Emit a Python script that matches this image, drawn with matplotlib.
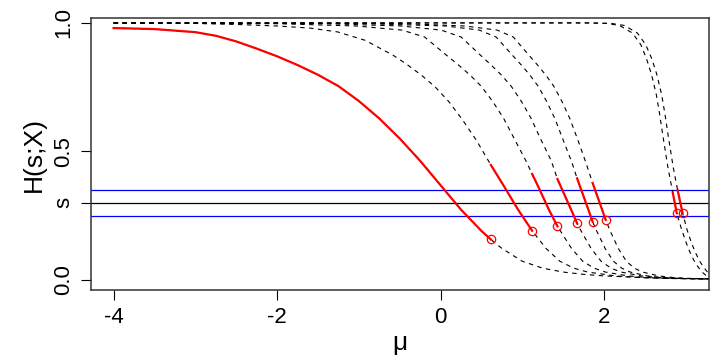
import numpy as np
import matplotlib
matplotlib.use("Agg")
import matplotlib.pyplot as plt

plt.rcParams['font.family'] = ['Liberation Sans', 'DejaVu Sans']

# curves H(s;X), one per step
curve_x = [
    [-4, -3.5, -3.0, -2.75, -2.5, -2.25, -2.0, -1.75, -1.5, -1.25, -1.0, -0.75, -0.5, -0.25, 0.0, 0.25, 0.5, 0.615,
     0.75, 1.0, 1.25, 1.5, 1.75, 2.0, 2.5, 3.0, 3.3],
    [-4, -3, -2.5, -2, -1.6, -1.26, -0.92, -0.58, -0.41, -0.24, -0.07, 0.10, 0.27, 0.44, 0.615, 0.78, 0.95, 1.12,
     1.29, 1.46, 1.63, 1.80, 2.14, 2.48, 2.82, 3.3],
    [-4, -2, -1.025, -0.47, -0.195, 0.081, 0.22, 0.357, 0.496, 0.634, 0.772, 0.91, 1.049, 1.12, 1.187, 1.325, 1.43,
     1.602, 1.74, 1.878, 2.017, 2.293, 2.57, 2.846, 3.3],
    [-4, -1.5, -0.48, 0.008, 0.252, 0.496, 0.619, 0.741, 0.863, 0.986, 1.108, 1.23, 1.352, 1.43, 1.597, 1.67, 1.719,
     1.841, 1.964, 2.086, 2.208, 2.452, 2.697, 2.941, 3.3],
    [-4, -1.0, 0.065, 0.475, 0.68, 0.885, 0.988, 1.09, 1.193, 1.295, 1.398, 1.5, 1.603, 1.67, 1.808, 1.86, 1.91,
     2.013, 2.115, 2.218, 2.32, 2.525, 2.73, 2.935, 3.3],
    [-4, -0.5, 0.2975, 0.6925, 0.89, 1.0875, 1.186, 1.285, 1.384, 1.4825, 1.581, 1.68, 1.779, 1.86, 1.976, 2.02,
     2.075, 2.174, 2.273, 2.371, 2.47, 2.668, 2.865, 3.063, 3.3],
    [-4, 1.8, 2.03, 2.19, 2.35, 2.45, 2.52, 2.58, 2.64, 2.68, 2.72, 2.78, 2.84, 2.89, 2.95, 3.0, 3.05, 3.1, 3.15,
     3.2, 3.25, 3.3],
    [-4, 1.85, 2.09, 2.25, 2.41, 2.51, 2.585, 2.645, 2.705, 2.745, 2.785, 2.845, 2.90, 2.96, 3.015, 3.065, 3.115,
     3.165, 3.215, 3.265, 3.3],
]
curve_y = [
    [0.980, 0.976, 0.964, 0.950, 0.928, 0.900, 0.870, 0.836, 0.798, 0.754, 0.696, 0.628, 0.550, 0.463, 0.368, 0.273,
     0.19, 0.157, 0.122, 0.072, 0.045, 0.03, 0.021, 0.015, 0.008, 0.005, 0.004],
    [1.0, 0.998, 0.994, 0.988, 0.98, 0.965, 0.932, 0.874, 0.838, 0.798, 0.752, 0.694, 0.622, 0.542, 0.447, 0.362,
     0.272, 0.191, 0.122, 0.072, 0.045, 0.03, 0.015, 0.008, 0.005, 0.003],
    [1.0, 0.997, 0.988, 0.972, 0.945, 0.872, 0.836, 0.798, 0.754, 0.696, 0.628, 0.544, 0.46, 0.412, 0.368, 0.273,
     0.208, 0.122, 0.072, 0.045, 0.03, 0.015, 0.008, 0.005, 0.003],
    [1.0, 0.998, 0.988, 0.972, 0.945, 0.872, 0.836, 0.798, 0.754, 0.696, 0.628, 0.544, 0.465, 0.392, 0.273, 0.22,
     0.19, 0.122, 0.072, 0.045, 0.03, 0.015, 0.008, 0.005, 0.003],
    [1.0, 0.998, 0.988, 0.972, 0.945, 0.872, 0.836, 0.798, 0.754, 0.696, 0.628, 0.544, 0.46, 0.395, 0.273, 0.226,
     0.19, 0.122, 0.072, 0.045, 0.03, 0.015, 0.008, 0.005, 0.003],
    [1.0, 0.998, 0.988, 0.972, 0.945, 0.872, 0.836, 0.798, 0.754, 0.696, 0.628, 0.544, 0.455, 0.377, 0.273, 0.233,
     0.19, 0.122, 0.072, 0.045, 0.03, 0.015, 0.008, 0.005, 0.003],
    [1.0, 1.0, 0.998, 0.99, 0.96, 0.915, 0.86, 0.80, 0.72, 0.645, 0.56, 0.44, 0.34, 0.259, 0.195, 0.148, 0.108,
     0.075, 0.05, 0.03, 0.016, 0.008],
    [1.0, 1.0, 0.998, 0.99, 0.96, 0.915, 0.86, 0.80, 0.72, 0.645, 0.56, 0.44, 0.349, 0.261, 0.195, 0.148, 0.108,
     0.075, 0.05, 0.03, 0.02],
]

# red part of each curve: from seg_start to the estimate mu_hat
seg_start = [-4, 0.615, 1.12, 1.43, 1.67, 1.86, 2.84, 2.90]
mu_hat = [0.615, 1.12, 1.43, 1.67, 1.86, 2.02, 2.89, 2.96]

s = 0.3
band = [0.25, 0.35]

fig = plt.figure(figsize=(7.27, 3.63), dpi=100)
ax = fig.add_axes([0.1248, 0.2003, 0.85, 0.7493])

ax.axhline(s, color='black', lw=0.9)
for b in band:
    ax.axhline(b, color='blue', lw=0.9)

for cx, cy, a, b in zip(curve_x, curve_y, seg_start, mu_hat):
    cx = np.array(cx)
    cy = np.array(cy)
    ax.plot(cx, cy, color='black', lw=0.8, linestyle=(0, (4, 4)))
    m = (cx >= a) & (cx <= b)
    ax.plot(cx[m], cy[m], color='red', lw=1.6)
    ax.plot(b, cy[cx == b][0], 'o', mfc='none', mec='red', ms=6, mew=0.9)

ax.set_xlim(-4.28, 3.28)
ax.set_ylim(-0.041, 1.018)
ax.set_xticks([-4, -2, 0, 2])
ax.set_xticklabels(['-4', '-2', '0', '2'])
ax.set_yticks([0, s, 0.5, 1.0])
ax.set_yticklabels(['0.0', 's', '0.5', '1.0'], rotation=90, va='center')
ax.tick_params(labelsize=16, length=7, width=0.8, pad=5)
for sp in ax.spines.values():
    sp.set_linewidth(1.1)
    sp.set_color('#333333')

ax.set_xlabel('μ', fontsize=19, labelpad=2)
ax.set_ylabel('H(s;X)', fontsize=19, labelpad=5)

fig.savefig('out.png', dpi=100)
